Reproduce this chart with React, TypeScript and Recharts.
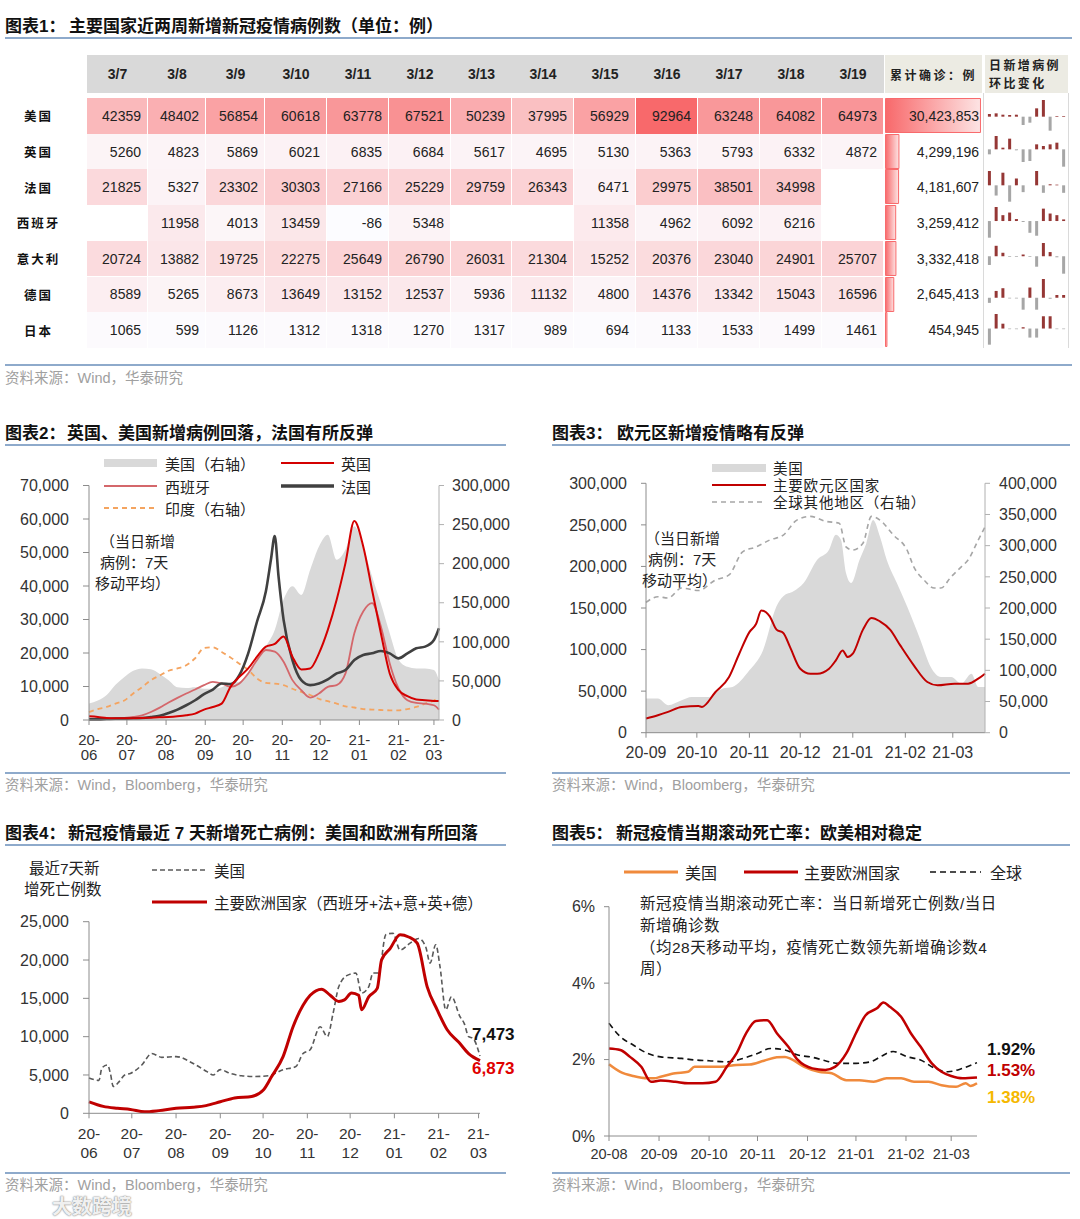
import React from 'react'
import {
  Area,
  Bar,
  BarChart,
  Cell,
  ComposedChart,
  Line,
  XAxis,
  YAxis,
} from 'recharts'

const NUM_FONT = "'Liberation Sans', Arial, 'Noto Sans CJK SC', sans-serif"
const CJK_FONT = "'Noto Sans CJK SC', 'Liberation Sans', sans-serif"

// ---------- table 1 ----------
const tableDates = ['3/7', '3/8', '3/9', '3/10', '3/11', '3/12', '3/13', '3/14', '3/15', '3/16', '3/17', '3/18', '3/19']
const tableCountries = ['美国', '英国', '法国', '西班牙', '意大利', '德国', '日本']
const usDaily = [42359, 48402, 56854, 60618, 63778, 67521, 50239, 37995, 56929, 92964, 63248, 64082, 64973]
const ukDaily = [5260, 4823, 5869, 6021, 6835, 6684, 5617, 4695, 5130, 5363, 5793, 6332, 4872]
const frDaily = [21825, 5327, 23302, 30303, 27166, 25229, 29759, 26343, 6471, 29975, 38501, 34998, null]
const esDaily = [null, 11958, 4013, 13459, -86, 5348, null, null, 11358, 4962, 6092, 6216, null]
const itDaily = [20724, 13882, 19725, 22275, 25649, 26790, 26031, 21304, 15252, 20376, 23040, 24901, 25707]
const deDaily = [8589, 5265, 8673, 13649, 13152, 12537, 5936, 11132, 4800, 14376, 13342, 15043, 16596]
const jpDaily = [1065, 599, 1126, 1312, 1318, 1270, 1317, 989, 694, 1133, 1533, 1499, 1461]
const cumulative = [30423853, 4299196, 4181607, 3259412, 3332418, 2645413, 454945]
// day-on-day change sparklines (relative heights)
const usSpark = [8, 10, 6, 5, 6, -25, -18, 25, 50, -42, 2, 2]
const ukSpark = [-15, 40, 5, 32, -3, -38, -35, 15, 10, 15, 20, -52]
const frSpark = [42, -30, 37, -48, 20, -20, 0, 42, -22, 3, 2, -22]
const esSpark = [-51, 43, 18, 26, 6, -3, -36, -45, 38, 23, 18, 5]
const itSpark = [-25, 30, 10, -2, -2, 5, -2, -30, 38, 12, -3, -50]
const deSpark = [-15, 20, 28, -2, -2, -35, 30, -35, 55, -3, 8, 8]
const jpSpark = [-50, 45, 15, -2, -2, 4, -28, -28, 38, 38, -2, -2]

const dailyRows = [usDaily, ukDaily, frDaily, esDaily, itDaily, deDaily, jpDaily]
const sparkRows = [usSpark, ukSpark, frSpark, esSpark, itSpark, deSpark, jpSpark]

// ---------- chart 2 (days since 2020-06-01) ----------
const days2 = [0, 7, 14, 21, 28, 35, 42, 49, 56, 63, 70, 77, 84, 91, 98, 105, 112, 119, 126, 133, 140, 147, 154, 161, 168, 175, 182, 189, 196, 203, 210, 217, 224, 231, 238, 245, 252, 259, 266, 273, 277]
const us2 = [21000, 25000, 32000, 45000, 55000, 63000, 66000, 65000, 59000, 51000, 42000, 41000, 42000, 40000, 40000, 42000, 47000, 49000, 59000, 77000, 94000, 115000, 154000, 171000, 160000, 192000, 222000, 237000, 205000, 218000, 248000, 222000, 184000, 149000, 111000, 77000, 68000, 66000, 66000, 64000, 51000]
const uk2 = [1100, 900, 600, 500, 500, 500, 600, 700, 800, 900, 1100, 1400, 1900, 3100, 3900, 4900, 9900, 12900, 15400, 18900, 21900, 22700, 24900, 18900, 15100, 15400, 19900, 26900, 35900, 46900, 59400, 51900, 38900, 25900, 13900, 8900, 7100, 6100, 5900, 5700, 5700]
const es2 = [200, 200, 300, 400, 600, 900, 1400, 2400, 3700, 5200, 6600, 7900, 9100, 10400, 11400, 10900, 9900, 10900, 13900, 17900, 20900, 20400, 17400, 11900, 8900, 6700, 7900, 9900, 10400, 13900, 25900, 32400, 34900, 27900, 16900, 9400, 5900, 5100, 4900, 4400, 3100]
const in2 = [10000, 14000, 16700, 21000, 25000, 34000, 42000, 51000, 57000, 63000, 66000, 70000, 79000, 92000, 93000, 87000, 80000, 72000, 64000, 53000, 47500, 46600, 44500, 40000, 36000, 32000, 27000, 24000, 21000, 17500, 16000, 14000, 13300, 12800, 12400, 12400, 14000, 16700, 21000, 25000, 28700]
const frDays2 = [0, 7, 14, 21, 28, 35, 42, 49, 56, 63, 70, 77, 84, 91, 98, 105, 112, 119, 126, 133, 140, 144, 147, 150, 154, 161, 168, 175, 182, 189, 196, 203, 210, 217, 224, 231, 238, 245, 252, 259, 266, 273, 277]
const fr2 = [200, 200, 300, 400, 400, 500, 600, 900, 1300, 2100, 3100, 4400, 5900, 7700, 9100, 10900, 10700, 13400, 19900, 29400, 38400, 47900, 54900, 42900, 29900, 17900, 11900, 10400, 10900, 12100, 13900, 14900, 17900, 19400, 19900, 20600, 19900, 18400, 19900, 21400, 21900, 23900, 27400]
const monthTicks2 = [0, 30, 61, 92, 122, 153, 183, 214, 245, 273]
const monthLabels2 = ['20-06', '20-07', '20-08', '20-09', '20-10', '20-11', '20-12', '21-01', '21-02', '21-03']
const leftTicks2 = [0, 10000, 20000, 30000, 40000, 50000, 60000, 70000]
const rightTicks2 = [0, 50000, 100000, 150000, 200000, 250000, 300000]

// ---------- chart 3 (days since 2020-09-01) ----------
const usDays3 = [0, 7, 13, 21, 27, 37, 45, 51, 61, 69, 77, 81, 87, 93, 101, 108, 112, 115, 118, 121, 126, 130, 134, 138, 142, 148, 154, 162, 168, 174, 180, 186, 192, 196, 200]
const us3 = [41000, 41000, 33000, 39000, 43000, 43000, 53000, 55000, 75000, 99000, 152000, 164000, 170000, 180000, 208000, 220000, 238000, 232000, 192000, 180000, 208000, 228000, 256000, 236000, 208000, 180000, 152000, 111000, 79000, 67000, 67000, 59000, 71000, 55000, 55000]
const euDays3 = [0, 7, 13, 21, 31, 33, 41, 49, 55, 61, 65, 68, 73, 77, 81, 85, 91, 97, 101, 108, 112, 116, 119, 122, 128, 133, 138, 144, 150, 158, 166, 172, 182, 190, 196, 200]
const eu3 = [17000, 21000, 25000, 31000, 32000, 31000, 49000, 67000, 95000, 121000, 131000, 147000, 140000, 124000, 120000, 103000, 77000, 71000, 71000, 77000, 87000, 99000, 91000, 95000, 124000, 138000, 134000, 124000, 105000, 81000, 61000, 57000, 59000, 59000, 65000, 71000]
const rowDays3 = [0, 7, 13, 21, 31, 41, 49, 57, 65, 73, 81, 89, 97, 106, 114, 118, 122, 128, 133, 138, 146, 154, 158, 164, 170, 174, 180, 186, 190, 196, 200]
const row3 = [209000, 218000, 216000, 232000, 228000, 245000, 253000, 290000, 298000, 309000, 317000, 341000, 347000, 339000, 336000, 298000, 293000, 304000, 347000, 341000, 317000, 293000, 266000, 245000, 232000, 232000, 250000, 266000, 277000, 309000, 330000]
const monthTicks3 = [0, 30, 61, 91, 122, 153, 181]
const monthLabels3 = ['20-09', '20-10', '20-11', '20-12', '21-01', '21-02', '21-03']
const leftTicks3 = [0, 50000, 100000, 150000, 200000, 250000, 300000]
const rightTicks3 = [0, 50000, 100000, 150000, 200000, 250000, 300000, 350000, 400000]

// ---------- chart 4 (days since 2020-06-01) ----------
const usDays4 = [0, 7, 9, 13, 15, 17, 21, 25, 29, 37, 44, 51, 61, 73, 83, 87, 92, 99, 107, 116, 126, 136, 145, 150, 155, 162, 167, 171, 175, 181, 187, 191, 196, 199, 203, 208, 213, 218, 225, 231, 236, 239, 243, 246, 250, 254, 260, 263, 266, 269, 274]
const us4 = [4600, 4300, 5900, 6300, 5200, 3500, 4100, 5000, 5200, 6300, 7800, 7300, 7400, 6500, 5400, 5000, 5700, 5200, 4900, 4800, 4900, 5700, 6100, 7800, 8300, 11300, 10000, 13000, 16500, 18000, 18300, 15700, 16500, 18300, 18300, 23300, 23500, 21300, 22200, 22800, 21700, 19600, 22000, 19100, 13500, 15200, 12600, 11700, 10000, 9800, 7473]
const euDays4 = [0, 10, 20, 29, 39, 49, 61, 73, 82, 92, 102, 114, 122, 128, 136, 143, 150, 155, 163, 169, 175, 179, 184, 189, 191, 196, 202, 205, 211, 218, 224, 230, 237, 244, 251, 259, 266, 274]
const eu4 = [1500, 900, 650, 500, 200, 350, 650, 800, 1000, 1500, 2000, 2200, 3000, 4800, 7400, 11300, 14100, 15400, 16200, 15400, 14600, 14800, 15700, 15400, 13500, 15200, 16300, 20000, 21500, 23300, 23000, 22200, 16500, 13500, 10900, 9300, 7800, 6873]
const leftTicks4 = [0, 5000, 10000, 15000, 20000, 25000]

// ---------- chart 5 (days since 2020-08-01), percent ----------
const usDays5 = [0, 7, 15, 24, 28, 32, 41, 49, 53, 62, 70, 79, 87, 96, 104, 109, 113, 121, 130, 138, 147, 155, 164, 172, 181, 189, 198, 206, 215, 221, 224, 228]
const us5 = [1.88, 1.68, 1.57, 1.51, 1.51, 1.55, 1.64, 1.68, 1.81, 1.81, 1.81, 1.86, 1.87, 1.97, 2.06, 2.07, 2.01, 1.81, 1.68, 1.64, 1.46, 1.46, 1.42, 1.51, 1.51, 1.42, 1.42, 1.33, 1.29, 1.38, 1.31, 1.38]
const euDays5 = [0, 7, 13, 20, 26, 32, 41, 49, 58, 66, 73, 79, 85, 91, 98, 104, 111, 117, 126, 134, 140, 147, 153, 159, 166, 170, 174, 181, 187, 193, 200, 206, 212, 219, 228]
const eu5 = [2.29, 2.25, 2.07, 1.81, 1.42, 1.45, 1.42, 1.38, 1.38, 1.42, 1.81, 2.16, 2.69, 3.01, 3.03, 2.69, 2.34, 1.99, 1.77, 1.73, 1.81, 2.16, 2.69, 3.16, 3.34, 3.49, 3.38, 3.12, 2.69, 2.34, 1.9, 1.68, 1.57, 1.51, 1.53]
const glDays5 = [0, 7, 15, 24, 32, 45, 53, 62, 73, 83, 92, 100, 109, 117, 126, 134, 142, 151, 162, 168, 176, 185, 193, 202, 210, 219, 228]
const gl5 = [2.95, 2.6, 2.38, 2.16, 2.07, 2.03, 1.99, 1.97, 1.94, 2.03, 2.16, 2.29, 2.25, 2.12, 2.06, 1.97, 1.9, 1.9, 1.94, 2.07, 2.21, 2.07, 1.99, 1.77, 1.68, 1.77, 1.92]
const monthTicks5 = [0, 31, 62, 92, 123, 153, 184, 212]
const monthLabels5 = ['20-08', '20-09', '20-10', '20-11', '20-12', '21-01', '21-02', '21-03']
const leftTicks5 = [0, 2, 4, 6]

const pts = (days: number[], vals: number[]) => days.map((d, i) => ({ day: d, v: vals[i] }))
const fmt = (v: number) => v.toLocaleString('en-US')

// ---------- small layout helpers ----------
// Latin font first: keeps the text boxes tight, CJK glyphs fall back to Noto Sans CJK
function T({ x, y, children, size = 15, color = '#222', bold = false, font = NUM_FONT, spacing = 0 }: any) {
  return (
    <div
      style={{
        position: 'absolute', left: x, top: y - size * 0.43, fontSize: size, lineHeight: `${size * 1.1}px`,
        color, fontWeight: bold ? 700 : 400, fontFamily: font, whiteSpace: 'nowrap', letterSpacing: spacing,
      }}
    >
      {children}
    </div>
  )
}

function HLine({ x1, x2, y, color = '#8eaacb' }: any) {
  return <div style={{ position: 'absolute', left: x1, top: y, width: x2 - x1, height: 1.5, background: color }} />
}

function Swatch({ x1, x2, y, color, width = 2, dash, area = false }: any) {
  const w = x2 - x1
  return (
    <svg style={{ position: 'absolute', left: x1, top: y - 6 }} width={w} height={12}>
      {area ? (
        <rect x={0} y={2} width={w} height={8} fill={color} />
      ) : (
        <line x1={0} y1={6} x2={w} y2={6} stroke={color} strokeWidth={width} strokeDasharray={dash} />
      )}
    </svg>
  )
}

function Title({ x, mainX, y, prefix, text }: any) {
  return (
    <>
      <T x={x} y={y} size={17} bold color="#111">{prefix}</T>
      <T x={mainX} y={y} size={17} bold color="#111">{text}</T>
    </>
  )
}

const twoLineTick = (ticks: number[], labels: string[], size: number, first: number, gap: number) => (props: any) => {
  const { x, y, payload } = props
  const label = labels[ticks.indexOf(payload.value)] ?? ''
  const [a, b] = label.split('-')
  return (
    <text x={x} y={y} textAnchor="middle" fontSize={size} fill="#333" fontFamily={NUM_FONT}>
      <tspan x={x} dy={first}>{a}-</tspan>
      <tspan x={x} dy={gap}>{b}</tspan>
    </text>
  )
}

// ---------- table ----------
const colWidths = [61, 58, 59, 62, 62, 62, 61, 62, 62, 62, 62, 62, 62]
const TABLE_X = 87
const ROW_TOP = 98
const ROW_H = 35.7

const flatDaily = dailyRows.flat().filter((v) => v != null) as number[]
const heatMin = Math.min(...flatDaily)
const heatMax = Math.max(...flatDaily)
function heat(v: number | null) {
  if (v == null) return '#ffffff'
  const t = (v - heatMin) / (heatMax - heatMin)
  const r = Math.round(252 + (248 - 252) * t)
  const g = Math.round(252 + (105 - 252) * t)
  const b = Math.round(255 + (107 - 255) * t)
  return `rgb(${r},${g},${b})`
}

function Spark({ values, top }: { values: number[]; top: number }) {
  const data = values.map((v, i) => ({ i, v }))
  const lo = Math.min(0, ...values)
  const hi = Math.max(0, ...values)
  return (
    <div style={{ position: 'absolute', left: 985, top }}>
      <BarChart width={83} height={ROW_H} data={data} margin={{ top: 2, right: 1, bottom: 3, left: 1 }} barCategoryGap="28%">
        <XAxis dataKey="i" hide />
        <YAxis hide domain={[lo, hi]} />
        <Bar dataKey="v" isAnimationActive={false}>
          {data.map((d) => (
            <Cell key={d.i} fill={d.v >= 0 ? '#953735' : '#a6a6a6'} />
          ))}
        </Bar>
      </BarChart>
    </div>
  )
}

function CumBar({ value, idx, top }: { value: number; idx: number; top: number }) {
  const maxCum = Math.max(...cumulative)
  return (
    <div style={{ position: 'absolute', left: 885, top }}>
      <BarChart layout="vertical" width={96} height={ROW_H} data={[{ name: 'c', v: value }]} margin={{ top: 0.5, right: 0.5, bottom: 1, left: 0.5 }} barCategoryGap={0}>
        <defs>
          <linearGradient id={`cumGrad${idx}`} x1="0" y1="0" x2="1" y2="0">
            <stop offset="0" stopColor="#f8696b" />
            <stop offset="1" stopColor="#fde4e4" />
          </linearGradient>
        </defs>
        <XAxis type="number" hide domain={[0, maxCum]} />
        <YAxis type="category" dataKey="name" hide />
        <Bar dataKey="v" fill={`url(#cumGrad${idx})`} stroke="#f8696b" strokeWidth={1} isAnimationActive={false} />
      </BarChart>
    </div>
  )
}

function Table1() {
  let x = TABLE_X
  const lefts = colWidths.map((w) => {
    const l = x
    x += w
    return l
  })
  return (
    <>
      <div style={{ position: 'absolute', left: TABLE_X, top: 55, width: 797, height: 38, background: '#d9d9d9' }} />
      {tableDates.map((d, j) => (
        <div key={d} style={{ position: 'absolute', left: lefts[j], top: 55, width: colWidths[j], height: 38, display: 'flex', alignItems: 'center', justifyContent: 'center', fontFamily: NUM_FONT, fontWeight: 700, fontSize: 14, color: '#222' }}>
          {d}
        </div>
      ))}
      <div style={{ position: 'absolute', left: 885, top: 55, width: 97, height: 38, background: '#ecebe3', display: 'flex', alignItems: 'center', justifyContent: 'center', fontFamily: CJK_FONT, fontWeight: 700, fontSize: 12, letterSpacing: 2.5, color: '#222' }}>
        累计确诊：例
      </div>
      <div style={{ position: 'absolute', left: 985, top: 55, width: 83, height: 38, background: '#ecebe3' }} />
      <T x={989} y={65} size={12} bold spacing={2.4}>日新增病例</T>
      <T x={989} y={83} size={12} bold spacing={2.4}>环比变化</T>

      {tableCountries.map((c, i) => {
        const top = ROW_TOP + i * ROW_H
        return (
          <React.Fragment key={c}>
            <div style={{ position: 'absolute', left: 0, top, width: 77, height: ROW_H, display: 'flex', alignItems: 'center', justifyContent: 'center', fontFamily: CJK_FONT, fontWeight: 700, fontSize: 12.5, letterSpacing: 2, color: '#111' }}>
              {c}
            </div>
            {dailyRows[i].map((v, j) => (
              <div key={j} style={{ position: 'absolute', left: lefts[j], top, width: colWidths[j] - 1, height: ROW_H, background: heat(v), display: 'flex', alignItems: 'center', justifyContent: 'flex-end', paddingRight: 6, boxSizing: 'border-box', fontFamily: NUM_FONT, fontSize: 14, color: '#222' }}>
                {v == null ? '' : v}
              </div>
            ))}
            <CumBar value={cumulative[i]} idx={i} top={top} />
            <div style={{ position: 'absolute', left: 885, top, width: 94, height: ROW_H, display: 'flex', alignItems: 'center', justifyContent: 'flex-end', fontFamily: NUM_FONT, fontSize: 14, color: '#222' }}>
              {fmt(cumulative[i])}
            </div>
            <Spark values={sparkRows[i]} top={top} />
          </React.Fragment>
        )
      })}
      <div style={{ position: 'absolute', left: 983, top: 93, width: 1, height: 255, background: '#dadada' }} />
      <div style={{ position: 'absolute', left: 1068, top: 93, width: 1, height: 255, background: '#dadada' }} />
    </>
  )
}

const axisStroke = '#8c8c8c'
const tickStyle = { fontSize: 16, fill: '#333', fontFamily: NUM_FONT }

function Chart2() {
  return (
    <div style={{ position: 'absolute', left: 0, top: 470 }}>
      <ComposedChart width={540} height={300} margin={{ top: 15.5, right: 16, bottom: 5, left: 0 }}>
        <XAxis type="number" dataKey="day" domain={[0, 277]} ticks={monthTicks2} interval={0} height={45}
          stroke={axisStroke} tickSize={5} tick={twoLineTick(monthTicks2, monthLabels2, 15, 18, 15)} />
        <YAxis yAxisId="l" domain={[0, 70000]} ticks={leftTicks2} width={89} stroke={axisStroke}
          tickSize={6} tickMargin={14} tick={tickStyle} tickFormatter={fmt} />
        <YAxis yAxisId="r" orientation="right" domain={[0, 300000]} ticks={rightTicks2} width={85} stroke="#b0b0b0"
          tickSize={5} tickMargin={8} tick={{ ...tickStyle, textAnchor: 'start' }} tickFormatter={fmt} />
        <Area yAxisId="r" data={pts(days2, us2)} dataKey="v" type="monotone" fill="#d9d9d9" fillOpacity={1} stroke="none" isAnimationActive={false} />
        <Line yAxisId="r" data={pts(days2, in2)} dataKey="v" type="monotone" stroke="#f4a460" strokeWidth={1.8} strokeDasharray="5 4" dot={false} isAnimationActive={false} />
        <Line yAxisId="l" data={pts(days2, es2)} dataKey="v" type="monotone" stroke="#d4676b" strokeWidth={1.8} dot={false} isAnimationActive={false} />
        <Line yAxisId="l" data={pts(frDays2, fr2)} dataKey="v" type="monotone" stroke="#404040" strokeWidth={2.6} dot={false} isAnimationActive={false} />
        <Line yAxisId="l" data={pts(days2, uk2)} dataKey="v" type="monotone" stroke="#d40000" strokeWidth={2} dot={false} isAnimationActive={false} />
      </ComposedChart>
    </div>
  )
}

function Chart3() {
  return (
    <div style={{ position: 'absolute', left: 545, top: 468 }}>
      <ComposedChart width={535} height={300} margin={{ top: 15.3, right: 15, bottom: 5.3, left: 0 }}>
        <XAxis type="number" dataKey="day" domain={[0, 200]} ticks={monthTicks3} interval={0} height={30}
          stroke={axisStroke} tickSize={5} tickMargin={9} tick={tickStyle}
          tickFormatter={(v: number) => monthLabels3[monthTicks3.indexOf(v)]} />
        <YAxis yAxisId="l" domain={[0, 300000]} ticks={leftTicks3} width={101} stroke={axisStroke}
          tickSize={5} tickMargin={14} tick={tickStyle} tickFormatter={fmt} />
        <YAxis yAxisId="r" orientation="right" domain={[0, 400000]} ticks={rightTicks3} width={80} stroke="#b0b0b0"
          tickSize={5} tickMargin={9} tick={{ ...tickStyle, textAnchor: 'start' }} tickFormatter={fmt} />
        <Area yAxisId="l" data={pts(usDays3, us3)} dataKey="v" type="monotone" fill="#d9d9d9" fillOpacity={1} stroke="none" isAnimationActive={false} />
        <Line yAxisId="r" data={pts(rowDays3, row3)} dataKey="v" type="monotone" stroke="#a6a6a6" strokeWidth={1.6} strokeDasharray="5 4" dot={false} isAnimationActive={false} />
        <Line yAxisId="l" data={pts(euDays3, eu3)} dataKey="v" type="monotone" stroke="#c00000" strokeWidth={2} dot={false} isAnimationActive={false} />
      </ComposedChart>
    </div>
  )
}

function Chart4() {
  return (
    <div style={{ position: 'absolute', left: 0, top: 905 }}>
      <ComposedChart width={540} height={262} margin={{ top: 16.7, right: 60, bottom: 3.7, left: 0 }}>
        <XAxis type="number" dataKey="day" domain={[0, 274]} ticks={monthTicks2} interval={0} height={50}
          stroke={axisStroke} tickSize={5} tick={twoLineTick(monthTicks2, monthLabels2, 15.5, 19, 19)} />
        <YAxis domain={[0, 25000]} ticks={leftTicks4} width={89} stroke={axisStroke}
          tickSize={6} tickMargin={14} tick={tickStyle} tickFormatter={fmt} />
        <Line data={pts(usDays4, us4)} dataKey="v" type="monotone" stroke="#595959" strokeWidth={1.6} strokeDasharray="5 3" dot={false} isAnimationActive={false} />
        <Line data={pts(euDays4, eu4)} dataKey="v" type="monotone" stroke="#c00000" strokeWidth={3} dot={false} isAnimationActive={false} />
      </ComposedChart>
    </div>
  )
}

function Chart5() {
  return (
    <div style={{ position: 'absolute', left: 545, top: 884 }}>
      <ComposedChart width={535} height={285} margin={{ top: 22.7, right: 103, bottom: 3, left: 0 }}>
        <XAxis type="number" dataKey="day" domain={[0, 228]} ticks={monthTicks5} interval={0} height={30}
          stroke={axisStroke} tickSize={5} tickMargin={8} tick={{ ...tickStyle, fontSize: 14.5 }}
          tickFormatter={(v: number) => monthLabels5[monthTicks5.indexOf(v)]} />
        <YAxis domain={[0, 6]} ticks={leftTicks5} width={64} stroke={axisStroke}
          tickSize={5} tickMargin={9} tick={tickStyle} tickFormatter={(v: number) => `${v}%`} />
        <Line data={pts(glDays5, gl5)} dataKey="v" type="monotone" stroke="#111" strokeWidth={1.6} strokeDasharray="6 4" dot={false} isAnimationActive={false} />
        <Line data={pts(usDays5, us5)} dataKey="v" type="monotone" stroke="#f08a3c" strokeWidth={2.5} dot={false} isAnimationActive={false} />
        <Line data={pts(euDays5, eu5)} dataKey="v" type="monotone" stroke="#c00000" strokeWidth={2.5} dot={false} isAnimationActive={false} />
      </ComposedChart>
    </div>
  )
}

export default function App() {
  const src = '#a0a0a0'
  return (
    <div style={{ position: 'absolute', left: 0, top: 0, width: 1080, height: 1219, background: '#fff', overflow: 'hidden' }}>
      {/* table 1 */}
      <Title x={5} mainX={69} y={25} prefix="图表1：" text="主要国家近两周新增新冠疫情病例数（单位：例）" />
      <HLine x1={5} x2={1072} y={37} />
      <Table1 />
      <HLine x1={5} x2={1072} y={364} />
      <T x={5} y={377} size={14.5} color={src}>资料来源：Wind，华泰研究</T>

      {/* chart 2 */}
      <Title x={5} mainX={67} y={432} prefix="图表2：" text="英国、美国新增病例回落，法国有所反弹" />
      <HLine x1={5} x2={506} y={444} />
      <Chart2 />
      <Swatch x1={104} x2={157} y={463} color="#d9d9d9" area />
      <T x={165} y={463}>美国（右轴）</T>
      <Swatch x1={281} x2={334} y={463} color="#d40000" width={2} />
      <T x={341} y={463}>英国</T>
      <Swatch x1={104} x2={157} y={486} color="#d4676b" width={2} />
      <T x={165} y={486}>西班牙</T>
      <Swatch x1={281} x2={334} y={486} color="#404040" width={3.5} />
      <T x={341} y={486}>法国</T>
      <Swatch x1={104} x2={157} y={508} color="#f4a460" width={2} dash="5 4" />
      <T x={165} y={508}>印度（右轴）</T>
      <T x={100} y={540}>（当日新增</T>
      <T x={100} y={561}>病例：7天</T>
      <T x={95} y={582}>移动平均）</T>
      <HLine x1={5} x2={506} y={772} />
      <T x={5} y={784} size={14.5} color={src}>资料来源：Wind，Bloomberg，华泰研究</T>

      {/* chart 3 */}
      <Title x={552} mainX={617} y={432} prefix="图表3：" text="欧元区新增疫情略有反弹" />
      <HLine x1={552} x2={1070} y={444} />
      <Chart3 />
      <Swatch x1={712} x2={766} y={468} color="#d9d9d9" area />
      <T x={773} y={468} size={14.5} spacing={0.8}>美国</T>
      <Swatch x1={712} x2={766} y={485} color="#c00000" width={2} />
      <T x={773} y={485} size={14.5} spacing={0.8}>主要欧元区国家</T>
      <Swatch x1={712} x2={766} y={502} color="#a6a6a6" width={1.6} dash="5 4" />
      <T x={773} y={502} size={14.5} spacing={0.8}>全球其他地区（右轴）</T>
      <T x={645} y={537}>（当日新增</T>
      <T x={648} y={558}>病例：7天</T>
      <T x={642} y={579}>移动平均）</T>
      <HLine x1={552} x2={1070} y={772} />
      <T x={552} y={784} size={14.5} color={src}>资料来源：Wind，Bloomberg，华泰研究</T>

      {/* chart 4 */}
      <Title x={5} mainX={68} y={832} prefix="图表4：" text="新冠疫情最近 7 天新增死亡病例：美国和欧洲有所回落" />
      <HLine x1={5} x2={506} y={844} />
      <Chart4 />
      <T x={29} y={867} size={15.5}>最近7天新</T>
      <T x={24} y={888} size={15.5}>增死亡例数</T>
      <Swatch x1={152} x2={207} y={870} color="#595959" width={1.6} dash="5 3" />
      <T x={214} y={870} size={15.5}>美国</T>
      <Swatch x1={152} x2={207} y={902} color="#c00000" width={3} />
      <T x={214} y={902} size={15.5}>主要欧洲国家（西班牙+法+意+英+德）</T>
      <T x={472} y={1033} size={17} bold color="#111">{fmt(us4[us4.length - 1])}</T>
      <T x={472} y={1067} size={17} bold color="#e00000">{fmt(eu4[eu4.length - 1])}</T>
      <HLine x1={5} x2={506} y={1172} />
      <T x={5} y={1184} size={14.5} color={src}>资料来源：Wind，Bloomberg，华泰研究</T>
      <T x={52} y={1205} size={20} bold color="rgba(255,255,255,0.9)">
        <span style={{ textShadow: '0 0 2px #888, 0 0 1px #888' }}>大数跨境</span>
      </T>

      {/* chart 5 */}
      <Title x={552} mainX={616} y={832} prefix="图表5：" text="新冠疫情当期滚动死亡率：欧美相对稳定" />
      <HLine x1={552} x2={1070} y={844} />
      <Chart5 />
      <Swatch x1={624} x2={678} y={872} color="#f08a3c" width={3} />
      <T x={685} y={872} size={16}>美国</T>
      <Swatch x1={744} x2={798} y={872} color="#c00000" width={3} />
      <T x={804} y={872} size={16}>主要欧洲国家</T>
      <Swatch x1={930} x2={981} y={872} color="#111" width={1.6} dash="6 4" />
      <T x={990} y={872} size={16}>全球</T>
      <T x={640} y={902} size={15.5} spacing={0.5}>新冠疫情当期滚动死亡率：当日新增死亡例数/当日</T>
      <T x={640} y={924} size={15.5} spacing={0.5}>新增确诊数</T>
      <T x={640} y={946} size={15.5} spacing={0.5}>（均28天移动平均，疫情死亡数领先新增确诊数4</T>
      <T x={640} y={967} size={15.5} spacing={0.5}>周）</T>
      <T x={987} y={1048} size={17} bold color="#111">{`${gl5[gl5.length - 1].toFixed(2)}%`}</T>
      <T x={987} y={1069} size={17} bold color="#c00000">{`${eu5[eu5.length - 1].toFixed(2)}%`}</T>
      <T x={987} y={1096} size={17} bold color="#f5b800">{`${us5[us5.length - 1].toFixed(2)}%`}</T>
      <HLine x1={552} x2={1070} y={1172} />
      <T x={552} y={1184} size={14.5} color={src}>资料来源：Wind，Bloomberg，华泰研究</T>
    </div>
  )
}
